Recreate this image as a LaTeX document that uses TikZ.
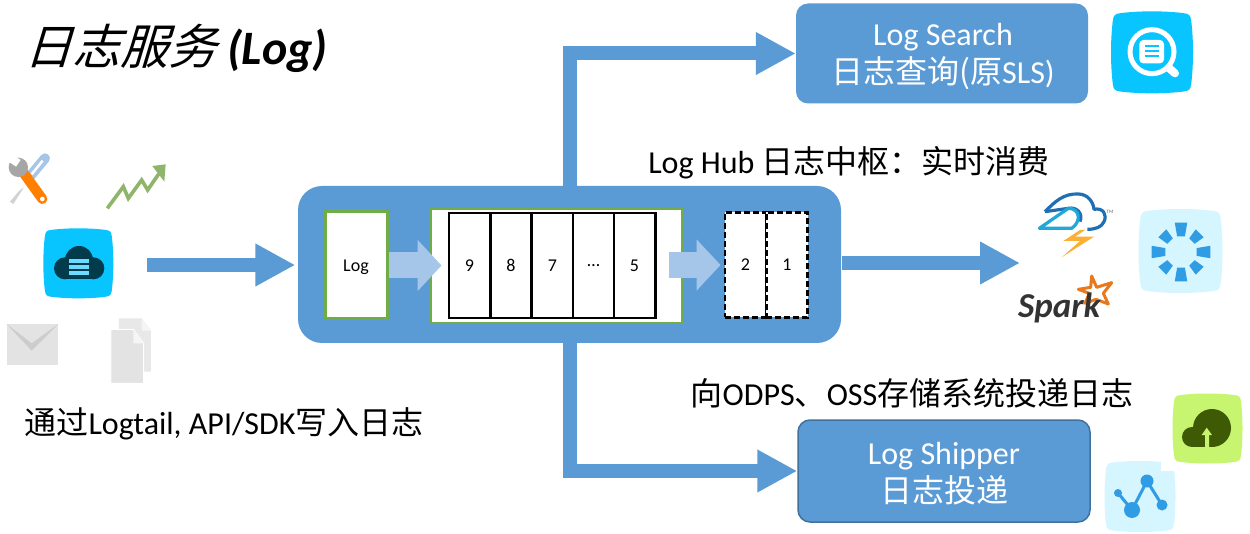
\documentclass[tikz,border=0pt]{standalone}
\usepackage{fontspec}
\usepackage{xcolor}
\usetikzlibrary{arrows.meta}
\setmainfont{Carlito}
\newfontfamily\cjk{Noto Sans CJK SC}
\newfontfamily\cjkslant[FakeSlant=0.3]{Noto Sans CJK SC}
\definecolor{hubblue}{HTML}{5B9BD5}
\definecolor{lightblue}{HTML}{A6C6E9}
\definecolor{boxedge}{HTML}{41719C}
\definecolor{framegreen}{HTML}{70AD47}
\definecolor{iconcyan}{HTML}{08C4FF}
\definecolor{iconpale}{HTML}{D5F5FF}
\definecolor{iconblue}{HTML}{2F9CE3}
\definecolor{icongreen}{HTML}{C8F56F}
\definecolor{iconolive}{HTML}{3F5A05}
\definecolor{trendgreen}{HTML}{8FB56A}
\definecolor{stormblue}{HTML}{1F6FB5}
\definecolor{stormcyan}{HTML}{1FA8D8}
\definecolor{stormyellow}{HTML}{FBB034}
\definecolor{sparkorange}{HTML}{E8791E}
\tikzset{
  bigarrow/.style={draw=hubblue, line width=14pt, -{Triangle[length=40pt,width=40pt,fill=hubblue]}},
  softarrow/.style={draw=lightblue, line width=26pt, -{Triangle[length=24pt,width=50pt,fill=lightblue]}},
  svcbox/.style={rounded corners=12pt, fill=hubblue, minimum width=292pt, minimum height=100pt, inner sep=0pt},
  svctext/.style={inner sep=0pt, text=white, align=center, font=\fontsize{32}{38}\selectfont},
  cell/.style={draw, line width=2.8pt, fill=white, minimum width=41.2pt, minimum height=105pt, inner sep=0pt, font=\fontsize{18}{20}\selectfont},
  dashcell/.style={cell, dash pattern=on 6pt off 3pt},
  caption/.style={inner sep=0pt, font=\fontsize{32}{38}\selectfont},
  squircle/.pic={
    \path[pic actions] (-.8,-1) .. controls (-.3,-1.06) and (.3,-1.06) .. (.8,-1)
      .. controls (.95,-.98) and (.98,-.95) .. (1,-.8)
      .. controls (1.06,-.3) and (1.06,.3) .. (1,.8)
      .. controls (.98,.95) and (.95,.98) .. (.8,1)
      .. controls (.3,1.06) and (-.3,1.06) .. (-.8,1)
      .. controls (-.95,.98) and (-.98,.95) .. (-1,.8)
      .. controls (-1.06,.3) and (-1.06,-.3) .. (-1,-.8)
      .. controls (-.98,-.95) and (-.95,-.98) .. (-.8,-1) -- cycle;
  }
}
\begin{document}
\begin{tikzpicture}[x=1pt,y=-1pt]
  \useasboundingbox[fill=white] (0,0) rectangle (1250,534);
  \node[inner sep=0pt, font=\fontsize{48}{50}\selectfont] (Title) at (176,48) {{\cjkslant 日志服务} \textbf{\textit{(Log)}}};
  \node[rounded corners=24pt, fill=hubblue, minimum width=543pt, minimum height=157pt, inner sep=0pt] (Hub) at (569.5,264.5) {};
  \node[svcbox] (Search) at (942,53.5) {};
  \node[svctext] (SearchText) at (943,57) {Log Search\\{\cjk 日志查询(原}SLS)};
  \node[svcbox, draw=boxedge, line width=1.5pt, minimum height=102pt] (Shipper) at (944,471) {};
  \node[svctext] (ShipperText) at (944,473.5) {Log Shipper\\{\cjk 日志投递}};
  \coordinate (In) at (147,265);
  \coordinate (Up) at (570,186);
  \coordinate (Down) at (570,343);
  \coordinate (Out) at (842,263);
  \coordinate (Stream) at (1020,263);
  \draw[bigarrow, shorten >=2.5pt] (In) -- (Hub.west |- In);
  \draw[bigarrow] (Up) |- (Search.west);
  \draw[bigarrow] (Down) |- (Shipper.west);
  \draw[bigarrow] (Out) -- (Stream);
  \node[draw=framegreen, line width=3pt, fill=white, minimum width=62pt, minimum height=107pt, inner sep=0pt, text height=16pt, text depth=4pt, font=\fontsize{18}{20}\selectfont] (Log) at (356,265.5) {Log};
  \node[draw=framegreen, line width=1.2pt, fill=white, minimum width=251pt, minimum height=114pt, inner sep=0pt] (Queue) at (556.5,266) {};
  \foreach \x/\lab/\nm in {469.5/9/Q9, 511/8/Q8, 552.5/7/Q7, 593.5/{\ldots}/Q6, 634.5/5/Q5}
    \node[cell] (\nm) at (\x,265.5) {\lab};
  \foreach \x/\lab/\nm in {745.5/2/D2, 787/1/D1}
    \node[dashcell] (\nm) at (\x,265) {\lab};
  \coordinate (Leave) at (669,265);
  \draw[softarrow, shorten >=6pt] (Log.east) -- (Q9.west);
  \draw[softarrow, shorten >=3pt] (Leave) -- (D2.west);
  \node[caption] (HubText) at (849,163) {Log Hub {\cjk 日志中枢：实时消费}};
  \node[caption] (ShipText) at (912,393) {{\cjk 向}ODPS{\cjk 、}OSS{\cjk 存储系统投递日志}};
  \node[caption] (InText) at (224,424) {{\cjk 通过}Logtail, API/SDK{\cjk 写入日志}};
  \begin{scope}[shift={(0,130)},scale=1/3]
    \fill[gray!35] (58,182) -- (72,172) -- (40,222) -- (30,215) -- cycle;
    \draw[line width=10pt, color=lightblue, line cap=round] (135,85) -- (85,145);
    \draw[line width=2.5pt, color=white] (128,92) -- (95,133);
    \draw[line width=10pt, color=orange, line cap=round] (68,125) -- (127,207);
    \fill[white] (127,207) circle (7);
    \fill[gray!70] (55,112) circle (29);
    \fill[white] (32,70) -- (62,90) -- (48,110) -- (22,92) -- cycle;
    \draw[line width=3.6pt, color=trendgreen] (322,235) -- (370,170) -- (385,205) -- (425,150) -- (443,180) -- (476,132);
    \fill[trendgreen] (457,108) -- (497,103) -- (493,155) -- cycle;
    \pic[fill=iconcyan, scale=35/1.045] at (235,400) {squircle};
    \fill[black!70!iconcyan] (237,390) circle (42);
    \fill[black!70!iconcyan] (195,415) circle (33);
    \fill[black!70!iconcyan] (280,415) circle (33);
    \fill[black!70!iconcyan] (195,398) rectangle (280,448);
    \foreach \t in {387,405,423}
      \fill[iconcyan!60!white] (207,\t) rectangle (267,\t+12);
    \fill[gray!22] (20,582) rectangle (175,705);
    \fill[gray!40] (20,582) -- (95,662) -- (175,582) -- (95,640) -- cycle;
    \fill[gray!18] (357,565) -- (425,565) -- (453,602) -- (453,725) -- (357,725) -- cycle;
    \fill[gray!8] (425,565) -- (453,602) -- (425,602) -- cycle;
    \draw[white, line width=1pt, fill=gray!22] (333,598) -- (400,598) -- (431,640) -- (431,760) -- (333,760) -- cycle;
    \fill[gray!8] (400,598) -- (431,640) -- (400,640) -- cycle;
  \end{scope}
  \begin{scope}[shift={(1080,0)},scale=1/3]
    \pic[fill=iconcyan, scale=41/1.045] at (216,157) {squircle};
    \draw[white, line width=5pt] (216,155) circle (66);
    \draw[white, line width=8pt, line cap=round] (267,204) -- (285,220);
    \fill[white, rounded corners=4pt] (178,120) rectangle (252,190);
    \foreach \t in {135,150,165}
      \fill[iconcyan] (196,\t) rectangle (236,\t+7);
  \end{scope}
  \begin{scope}[shift={(1000,180)},scale=1/3]
    \draw[line width=3.2pt, color=stormblue, line join=round] (135,95) .. controls (165,65) and (190,40) .. (235,42) .. controls (262,42) and (280,65) .. (282,88) .. controls (310,82) and (322,105) .. (312,125) .. controls (305,142) and (285,148) .. (262,148);
    \draw[line width=3.2pt, color=stormblue] (135,95) -- (205,85) .. controls (230,80) and (250,100) .. (240,125);
    \draw[line width=3.2pt, color=stormcyan, line join=round] (118,145) -- (205,85) .. controls (240,85) and (245,125) .. (215,145) -- cycle;
    \fill[stormyellow] (240,150) -- (190,183) -- (240,183) -- (185,232) -- (282,170) -- (225,170) -- (255,150) -- cycle;
    \draw[line width=3pt, color=sparkorange, line join=round] (275,288) -- (290,322) -- (335,308) -- (310,340) -- (325,372) -- (288,358) -- (255,370) -- (268,340) -- (235,328) -- (272,322) -- cycle;
    \node[inner sep=0pt, text=black!80, font=\fontsize{35}{35}\selectfont\bfseries\itshape] (Spark) at (178,385) {Spark};
    \node[inner sep=0pt, text=black!60, font=\fontsize{5}{5}\selectfont] (TM) at (330,96) {TM};
  \end{scope}
  \pic[fill=iconpale, scale=42/1.045] at (1180.5,251) {squircle};
  \begin{scope}[shift={(1181,252)}]
    \foreach \a/\r in {0/30,90/30,180/30,270/30,45/27,135/27,225/27,315/27}
      \fill[iconblue] (\a-14:16) -- (\a-12:\r) -- (\a+12:\r) -- (\a+14:16) -- cycle;
  \end{scope}
  \pic[fill=iconpale, scale=35.5/1.045] at (1140,496.5) {squircle};
  \fill[white] (1161,458) rectangle (1179,471);
  \pic[fill=icongreen, scale=35/1.045] at (1207.5,428.5) {squircle};
  \fill[iconolive] (1212,428) circle (19);
  \fill[iconolive] (1192,437) circle (10);
  \fill[iconolive] (1192,427) rectangle (1212,447);
  \fill[icongreen] (1206.7,427.7) -- (1212,435) -- (1209,435) -- (1209,447) -- (1205,447) -- (1205,435) -- (1201.7,435) -- cycle;
  \draw[iconblue, line width=3pt] (1118,493) -- (1132,510) -- (1147,481) -- (1162,505);
  \fill[iconblue] (1118,493) circle (4);
  \fill[iconblue] (1132,510) circle (8);
  \fill[iconblue] (1147,481) circle (6.5);
  \fill[iconblue] (1162,505) circle (5.5);
\end{tikzpicture}
\end{document}
